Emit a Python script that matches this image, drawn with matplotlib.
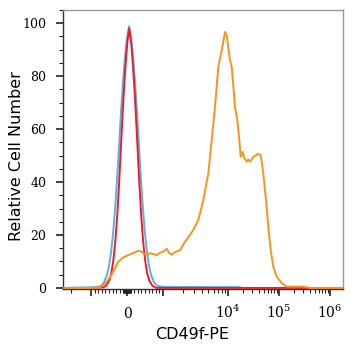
import numpy as np
import matplotlib
matplotlib.use("Agg")
import matplotlib.pyplot as plt

plt.rcParams['mathtext.fontset'] = 'dejavuserif'

# ---------------- data (fluorescence intensity, relative cell number) -------------
orange_x = [-2700, -889, -750, -639, -528, -389, -250, -111, 0, 139, 306, 389,
            472, 583, 639, 722, 825, 917, 1000, 1140, 1237, 1361, 1530, 1702, 1828, 2180,
            2512, 2924, 3491, 4169, 4977, 5610, 6310, 7096, 8000, 8995, 9550, 10940, 11830,
            13710, 15210, 16660, 17750, 19410, 20890, 23280, 25000, 26980, 31330, 39270,
            43750, 49200, 55590, 61660, 68710, 77270, 90120, 113000, 141600, 300000,
            405000, 1800000]
orange_y = [0, 0, 0.3, 1.2, 3.0, 6.0, 9.8, 11.5, 12.2, 13.0, 14.0, 13.8,
            12.9, 12.6, 13.2, 12.8, 12.4, 13.3, 13.7, 14.8, 13.2, 12.6, 13.5, 14.0, 14.3, 17.5,
            19.5, 21.9, 25.7, 33.2, 43.3, 55.8, 68.4, 83.5, 89.8, 96.7, 95.5, 86.0, 83.5,
            68.4, 63.4, 55.8, 49.5, 51.4, 48.9, 47.7, 48.6, 47.7, 49.5, 50.6,
            50.2, 43.3, 33.2, 23.1, 14.3, 8.0, 4.3, 1.8, 0.5, 0.5,
            0, 0]

red_x = [-1000, -661, -578, -494, -439, -383, -328, -272, -217, -161, -106, -50, 6, 61,
         117, 172, 228, 283, 339, 394, 450, 506, 561, 617, 700, 783, 839, 1800000]
red_y = [0, 0.2, 0.9, 2.8, 5.5, 10.1, 17.2, 27.2, 40.3, 55.5, 70.0, 82.5, 92.5, 98.0,
         92.5, 82.5, 70.0, 55.5, 40.3, 27.2, 17.2, 10.1, 5.5, 2.8, 0.9, 0.2, 0, 0]

blue_x = [-2700, -833, -722, -639, -556, -500, -444, -389, -333, -278, -222, -167, -111,
          -56, 0, 56, 111, 167, 222, 278, 333, 389, 444, 500, 556, 611, 667, 750, 833,
          944, 1100, 17180]
blue_y = [0, 0.3, 0.8, 2.1, 5.0, 8.4, 13.4, 20.4, 29.5, 40.7, 53.3, 66.6, 78.0,
          87.5, 94.5, 98.9, 94.5, 87.5, 78.0, 66.6, 53.3, 40.7, 29.5, 20.4, 13.4, 8.4,
          5.0, 2.1, 0.9, 0.5, 0.4, 0.3]

x_major = [-1000, 0, 1000, 1e4, 1e5, 1e6]
x_major_labels = ['', '0', '', r'$10^4$', r'$10^5$', r'$10^6$']
y_major = [0, 20, 40, 60, 80, 100]

# ---------------- biexponential-like display scale --------------------------------
A_LOG = np.array([3.0, 4.0, 5.0, 6.0, 7.0])
A_POS = np.array([36.0, 101.0, 152.0, 203.0, 254.0])
LIN = 36.0 / 1000.0


def fwd(v):
    v = np.asarray(v, dtype=float)
    a = np.abs(v)
    lg = np.log10(np.maximum(a, 1000.0))
    p = np.where(a <= 1000, a * LIN, np.interp(lg, A_LOG, A_POS))
    return np.sign(v) * p


def inv(p):
    p = np.asarray(p, dtype=float)
    a = np.abs(p)
    v = np.where(a <= 36, a / LIN, 10 ** np.interp(a, A_POS, A_LOG))
    return np.sign(p) * v


# minor ticks
minor = []
for k in range(1, 10):
    minor += [k * 10, -k * 10, k * 100, -k * 100]
for dec in [1e3, 1e4, 1e5]:
    minor += [k * dec for k in range(2, 10)]
minor += [-2000]

fig = plt.figure(figsize=(3.54, 3.50), dpi=100)
ax = fig.add_axes([63 / 354, 61 / 350, 280 / 354, 279 / 350])
ax.set_xscale('function', functions=(fwd, inv))

ax.plot(blue_x, blue_y, color='#5ab0e4', lw=1.4, zorder=2)
ax.plot(red_x, red_y, color='#ee1c25', lw=1.4, zorder=3)
ax.plot(orange_x, orange_y, color='#f7941d', lw=1.4, zorder=4)

ax.set_xlim(-2700, 1.8e6)
ax.set_ylim(-0.4, 105)

ax.set_xticks(x_major)
ax.set_xticklabels(x_major_labels)
ax.set_xticks(minor, minor=True)
ax.set_yticks(y_major)
ax.set_yticks(np.arange(0, 106, 5), minor=True)

for lbl in ax.get_yticklabels():
    lbl.set_fontfamily('DejaVu Serif')
    lbl.set_fontsize(9)
for lbl in ax.get_xticklabels():
    lbl.set_fontfamily('DejaVu Serif')
    lbl.set_fontsize(10)
    lbl.set_va('baseline')

ax.tick_params(axis='x', which='major', length=5, width=1.2, pad=16, color='#222')
ax.tick_params(axis='x', which='minor', length=3, width=0.8, color='#222')
ax.tick_params(axis='y', which='major', length=5, width=1.2, pad=7, color='#222')
ax.tick_params(axis='y', which='minor', length=3, width=0.8, color='#222')

for s in ['left', 'bottom']:
    ax.spines[s].set_color('#333333')
    ax.spines[s].set_linewidth(1.0)
for s in ['top', 'right']:
    ax.spines[s].set_color('#999999')
    ax.spines[s].set_linewidth(1.0)

ax.set_xlabel('CD49f-PE', fontsize=11.5, family='DejaVu Sans')
ax.set_ylabel('Relative Cell Number', fontsize=11.5, family='DejaVu Sans')
ax.xaxis.label.set_va('center')
ax.yaxis.label.set_va('center')
ax.xaxis.set_label_coords(0.46, -0.163)
ax.yaxis.set_label_coords(-0.166, 0.477)

fig.savefig('out.png', dpi=100)
